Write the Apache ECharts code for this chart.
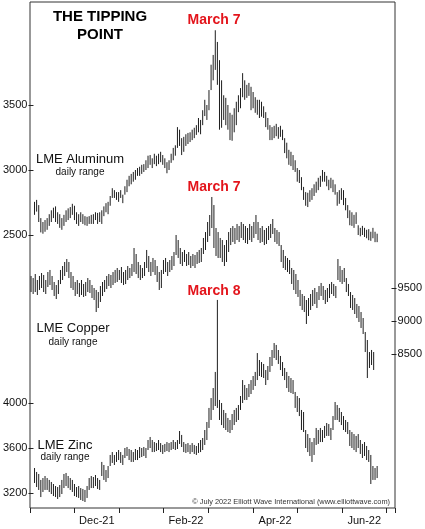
<!DOCTYPE html>
<html>
<head>
<meta charset="utf-8">
<script src="https://cdn.jsdelivr.net/npm/echarts@6/dist/echarts.min.js"></script>
<style>html,body{margin:0;padding:0;background:#fff}#c{width:425px;height:529px}</style>
</head>
<body>
<div id="c"></div>
<script>
// Month slots on the x axis (21 trading-day slots per month)
const months = ['Nov-21','Dec-21','Jan-22','Feb-22','Mar-22','Apr-22','May-22','Jun-22','Jul-22'];
const shownMonths = ['Dec-21','Feb-22','Apr-22','Jun-22'];
const slotsPerMonth = 21;
const extraSlots = 4;

// Y-axis tick values
const alTicks = [2500, 3000, 3500];
const cuTicks = [8500, 9000, 9500];
const znTicks = [3200, 3600, 4000];

// LME Aluminum daily high / low
const alHigh = [2755,2770,2730,2630,2600,2615,2630,2660,2690,2710,
2720,2675,2660,2630,2655,2690,2705,2715,2740,2725,
2675,2660,2675,2660,2645,2640,2645,2655,2660,2675,
2670,2675,2690,2720,2745,2755,2800,2860,2845,2830,
2830,2845,2810,2875,2925,2955,2970,2985,3000,3015,
3025,3040,3045,3075,3110,3115,3090,3125,3110,3125,
3140,3115,3090,3060,3075,3125,3170,3190,3330,3310,
3245,3255,3275,3285,3290,3310,3325,3345,3400,3385,
3460,3540,3500,3615,3810,3885,4075,3985,3845,3690,
3575,3555,3500,3440,3425,3475,3525,3575,3630,3745,
3690,3655,3670,3640,3600,3560,3540,3540,3525,3490,
3445,3400,3345,3330,3340,3355,3330,3340,3310,3245,
3210,3155,3140,3115,3075,3015,3000,2945,2870,2830,
2825,2845,2860,2890,2910,2940,2955,3000,2985,2955,
2925,2940,2925,2890,2830,2845,2860,2845,2785,2730,
2690,2675,2655,2675,2575,2555,2570,2555,2540,2545,
2525,2555,2525,2510];
const alLow = [2655,2680,2600,2520,2510,2525,2540,2570,2600,2630,
2600,2585,2555,2540,2570,2600,2615,2630,2655,2615,
2585,2570,2600,2585,2575,2570,2585,2585,2585,2615,
2585,2600,2585,2645,2675,2660,2725,2785,2785,2770,
2755,2785,2745,2810,2830,2875,2890,2910,2925,2955,
2955,2970,2985,3000,3015,3040,3015,3045,3030,3045,
3060,3040,3015,2975,3000,3055,3075,3110,3170,3185,
3115,3140,3185,3200,3215,3230,3245,3270,3290,3275,
3345,3415,3385,3460,3615,3690,3770,3655,3310,3325,
3385,3345,3310,3230,3225,3290,3345,3445,3475,3560,
3540,3555,3570,3460,3475,3440,3425,3400,3410,3400,
3330,3310,3230,3230,3245,3260,3240,3255,3230,3130,
3090,3040,3030,3000,2985,2910,2900,2845,2770,2725,
2715,2755,2770,2800,2825,2845,2870,2910,2910,2875,
2845,2860,2830,2810,2725,2740,2770,2730,2690,2630,
2575,2570,2555,2585,2500,2490,2500,2485,2475,2460,
2455,2475,2445,2445];

// LME Copper daily high / low
const cuHigh = [9682,9651,9712,9621,9682,9727,9697,9621,9742,9773,
9682,9591,9545,9621,9773,9833,9894,9939,9894,9742,
9682,9591,9621,9576,9621,9561,9591,9651,9621,9545,
9500,9470,9439,9530,9591,9621,9682,9712,9697,9742,
9773,9803,9773,9818,9742,9773,9833,9803,9864,10106,
10015,9894,9848,9803,9894,10076,9985,9894,9955,9924,
9833,9742,9773,9924,9955,9894,9924,9985,10045,10303,
10227,10106,10045,10076,10015,10045,9985,10015,10000,10045,
10076,10106,10258,10348,10500,10606,10879,10757,10409,10348,
10258,10227,10151,10227,10348,10409,10439,10409,10470,10439,
10500,10470,10439,10409,10470,10439,10500,10606,10500,10409,
10439,10379,10409,10439,10470,10545,10409,10379,10348,10151,
10076,9985,9955,9924,9803,9773,9712,9621,9470,9409,
9379,9318,9348,9409,9470,9500,9439,9530,9576,9530,
9470,9500,9561,9591,9561,9530,9939,9833,9773,9803,
9651,9561,9439,9394,9348,9258,9227,9136,9045,8833,
8712,8530,8561,8530];
const cuLow = [9439,9409,9439,9394,9470,9500,9439,9409,9515,9545,
9470,9379,9333,9409,9560,9621,9682,9742,9651,9500,
9470,9379,9409,9364,9394,9364,9379,9439,9424,9348,
9318,9136,9197,9288,9379,9439,9485,9530,9500,9545,
9576,9591,9621,9576,9545,9560,9621,9651,9682,9742,
9712,9651,9621,9651,9682,9803,9742,9682,9742,9697,
9591,9470,9500,9712,9742,9682,9742,9773,9833,10000,
9955,9864,9833,9894,9833,9848,9803,9833,9803,9864,
9879,9894,10015,10076,10197,10288,10409,10106,9985,9955,
9955,9894,9833,9894,10045,10151,10197,10167,10227,10197,
10258,10227,10182,10167,10227,10197,10258,10318,10227,10182,
10197,10151,10167,10227,10258,10318,10197,10167,10136,9894,
9803,9773,9742,9712,9561,9470,9409,9364,9227,9167,
9136,8955,9076,9167,9227,9258,9197,9318,9379,9318,
9258,9288,9348,9409,9379,9348,9621,9591,9561,9591,
9439,9379,9197,9167,9106,9045,8985,8894,8803,8530,
8136,8288,8333,8258];

// LME Zinc daily high / low
const znHigh = [3422,3387,3369,3316,3333,3351,3333,3316,3298,3280,
3262,3253,3271,3316,3369,3378,3351,3333,3316,3280,
3253,3262,3244,3236,3227,3262,3333,3351,3342,3360,
3333,3316,3476,3449,3404,3440,3538,3564,3538,3564,
3582,3564,3538,3600,3609,3591,3582,3564,3591,3582,
3609,3600,3609,3600,3671,3698,3671,3653,3644,3671,
3644,3627,3636,3653,3644,3653,3671,3653,3671,3751,
3716,3653,3636,3644,3627,3644,3627,3618,3644,3671,
3689,3760,3831,3956,4044,4133,4276,4916,4027,4000,
3938,3911,3867,3849,3902,3938,3956,3982,4062,4204,
4160,4133,4169,4204,4240,4276,4444,4382,4364,4347,
4293,4329,4409,4471,4533,4516,4471,4418,4364,4311,
4276,4240,4222,4204,4098,4062,4044,3938,3920,3760,
3724,3689,3653,3689,3778,3760,3778,3760,3796,3822,
3813,3778,3884,4009,3982,3956,3920,3884,3849,3831,
3760,3742,3724,3707,3724,3671,3636,3653,3618,3582,
3538,3440,3422,3440];
const znLow = [3289,3253,3227,3164,3209,3227,3227,3209,3191,3173,
3164,3147,3164,3191,3244,3262,3244,3227,3209,3173,
3164,3156,3138,3129,3120,3156,3227,3244,3244,3262,
3236,3227,3351,3316,3298,3333,3440,3467,3449,3476,
3493,3467,3449,3511,3529,3493,3476,3476,3493,3493,
3511,3520,3529,3511,3582,3600,3564,3564,3573,3582,
3564,3547,3564,3573,3564,3582,3591,3582,3591,3636,
3609,3564,3556,3564,3547,3564,3547,3538,3556,3564,
3582,3627,3671,3778,3849,3938,3973,3956,3849,3804,
3778,3760,3742,3733,3760,3804,3831,3849,3938,4000,
4027,4027,4053,4080,4116,4151,4204,4240,4231,4222,
4160,4204,4276,4329,4400,4382,4347,4293,4240,4204,
4133,4098,4089,4080,3956,3920,3884,3760,3742,3600,
3564,3529,3476,3538,3627,3636,3653,3653,3689,3707,
3707,3671,3760,3849,3849,3831,3804,3760,3742,3724,
3618,3600,3582,3564,3600,3547,3511,3529,3493,3476,
3280,3316,3316,3333];

// categories: trading-day slots
const categories = [];
for (let m = 0; m < months.length - 1; m++) {
  for (let d = 1; d <= slotsPerMonth; d++) categories.push(months[m] + ' #' + d);
}
for (let d = 1; d <= extraSlots; d++) categories.push(months[months.length - 1] + ' #' + d);

const FONT = '"Liberation Sans", Arial, Helvetica, sans-serif';
const L = 30, R = 30;

function toItems(hi, lo) { return hi.map((h, i) => [i, h, lo[i]]); }

function renderRange(params, api) {
  const i = api.value(0);
  const p1 = api.coord([i, api.value(1)]);
  const p2 = api.coord([i, api.value(2)]);
  return { type: 'line', shape: { x1: p1[0], y1: p1[1], x2: p2[0], y2: p2[1] },
           style: { stroke: '#1e1e1e', lineWidth: 1 } };
}

function subX(gi) {
  return { type: 'category', gridIndex: gi, data: categories, boundaryGap: true, show: false };
}
function subY(gi, ticks, pos) {
  return {
    type: 'value', gridIndex: gi, position: pos,
    min: ticks[0], max: ticks[ticks.length - 1], interval: ticks[1] - ticks[0],
    axisLine: { show: false }, splitLine: { show: false },
    axisTick: { show: true, length: 5, lineStyle: { color: '#222', width: 1 } },
    axisLabel: { color: '#111', fontSize: 11, fontFamily: FONT, margin: 6, formatter: (v) => String(v) }
  };
}

const chart = echarts.init(document.getElementById('c'), null, { renderer: 'canvas' });
chart.setOption({
  animation: false,
  backgroundColor: '#fff',
  grid: [
    { left: L, right: R, top: 2, bottom: 21, show: true, borderColor: '#333', borderWidth: 1, backgroundColor: 'transparent' },
    { left: L, right: R, top: 105, bottom: 294 },
    { left: L, right: R, top: 288, bottom: 175 },
    { left: L, right: R, top: 403, bottom: 36 }
  ],
  xAxis: [
    {
      type: 'category', gridIndex: 0, data: categories, boundaryGap: true,
      axisLine: { show: false },
      axisTick: { show: true, length: 5, interval: (idx) => idx % slotsPerMonth === 0, lineStyle: { color: '#222' } },
      axisLabel: {
        color: '#111', fontSize: 11, fontFamily: FONT, margin: 7,
        interval: (idx) => idx % slotsPerMonth === Math.floor(slotsPerMonth / 2) && shownMonths.indexOf(months[Math.floor(idx / slotsPerMonth)]) >= 0,
        formatter: (v, idx) => months[Math.floor(idx / slotsPerMonth)]
      }
    },
    subX(1), subX(2), subX(3)
  ],
  yAxis: [
    { type: 'value', gridIndex: 0, show: false, min: 0, max: 1 },
    subY(1, alTicks, 'left'),
    subY(2, cuTicks, 'right'),
    subY(3, znTicks, 'left')
  ],
  series: [
    { type: 'custom', xAxisIndex: 1, yAxisIndex: 1, data: toItems(alHigh, alLow), renderItem: renderRange, clip: false, encode: { x: 0, y: [1, 2] } },
    { type: 'custom', xAxisIndex: 2, yAxisIndex: 2, data: toItems(cuHigh, cuLow), renderItem: renderRange, clip: false, encode: { x: 0, y: [1, 2] } },
    { type: 'custom', xAxisIndex: 3, yAxisIndex: 3, data: toItems(znHigh, znLow), renderItem: renderRange, clip: false, encode: { x: 0, y: [1, 2] } }
  ],
  graphic: [
    { type: 'text', x: 100, y: 17, style: { text: 'THE TIPPING', font: 'bold 15px ' + FONT, fill: '#000', align: 'center', verticalAlign: 'middle' } },
    { type: 'text', x: 100, y: 34.5, style: { text: 'POINT', font: 'bold 15px ' + FONT, fill: '#000', align: 'center', verticalAlign: 'middle' } },
    { type: 'text', x: 214, y: 20.5, style: { text: 'March 7', font: 'bold 14px ' + FONT, fill: '#e3141b', align: 'center', verticalAlign: 'middle' } },
    { type: 'text', x: 214, y: 187.5, style: { text: 'March 7', font: 'bold 14px ' + FONT, fill: '#e3141b', align: 'center', verticalAlign: 'middle' } },
    { type: 'text', x: 214, y: 291, style: { text: 'March 8', font: 'bold 14px ' + FONT, fill: '#e3141b', align: 'center', verticalAlign: 'middle' } },
    { type: 'text', x: 80, y: 159, style: { text: 'LME Aluminum', font: '13px ' + FONT, fill: '#111', align: 'center', verticalAlign: 'middle' } },
    { type: 'text', x: 80, y: 172, style: { text: 'daily range', font: '10px ' + FONT, fill: '#111', align: 'center', verticalAlign: 'middle' } },
    { type: 'text', x: 73, y: 328, style: { text: 'LME Copper', font: '13px ' + FONT, fill: '#111', align: 'center', verticalAlign: 'middle' } },
    { type: 'text', x: 73, y: 342, style: { text: 'daily range', font: '10px ' + FONT, fill: '#111', align: 'center', verticalAlign: 'middle' } },
    { type: 'text', x: 65, y: 445, style: { text: 'LME Zinc', font: '13px ' + FONT, fill: '#111', align: 'center', verticalAlign: 'middle' } },
    { type: 'text', x: 65, y: 457, style: { text: 'daily range', font: '10px ' + FONT, fill: '#111', align: 'center', verticalAlign: 'middle' } },
    { type: 'text', x: 390, y: 501.5, style: { text: '\u00A9 July 2022 Elliott Wave International (www.elliottwave.com)', font: '7.4px ' + FONT, fill: '#333', align: 'right', verticalAlign: 'middle' } }
  ]
});
</script>
</body>
</html>
